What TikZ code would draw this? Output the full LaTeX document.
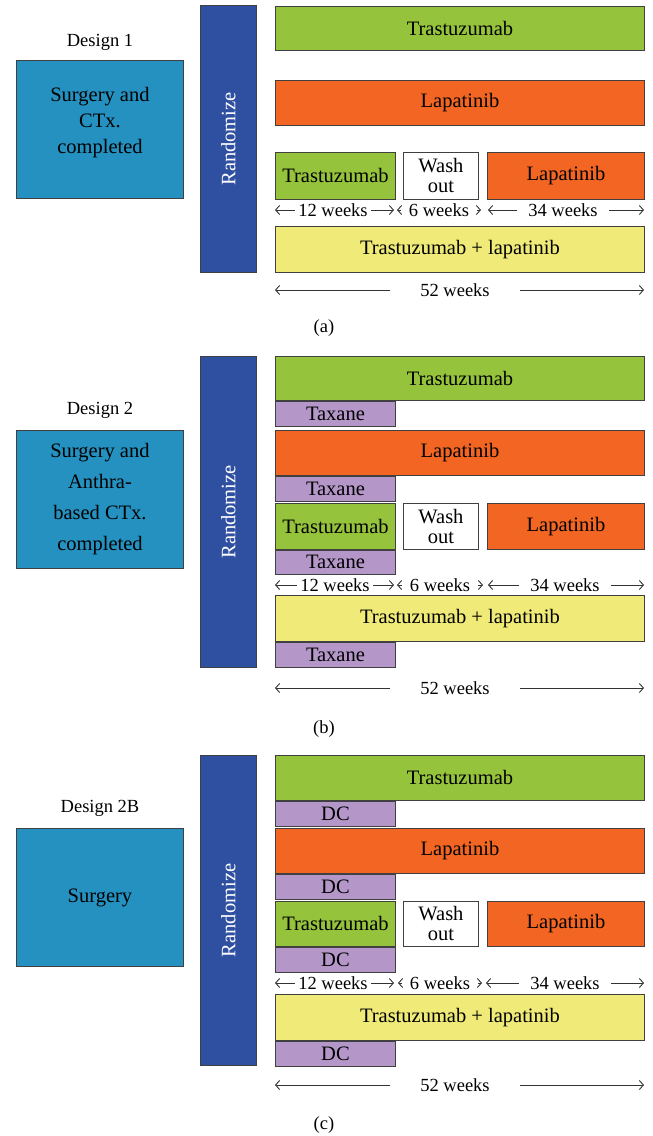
\documentclass[tikz,border=0pt]{standalone}
\usepackage{fontspec}
\setmainfont{Liberation Serif}
\usetikzlibrary{arrows.meta,positioning}
\definecolor{ctxblue}{RGB}{36,145,192}
\definecolor{randblue}{RGB}{47,79,160}
\definecolor{trgreen}{RGB}{150,195,60}
\definecolor{laporange}{RGB}{242,101,34}
\definecolor{combyellow}{RGB}{240,235,120}
\definecolor{chemopurple}{RGB}{180,151,200}

\begin{document}
\begin{tikzpicture}[x=1pt, y=-1pt,
    font=\fontsize{20.5}{26}\selectfont,
    arm/.style={draw=black!75, line width=0.9pt, anchor=north west, inner sep=0pt, align=center},
    longarm/.style={arm, minimum width=369pt},
    shortarm/.style={arm, minimum width=120pt},
    washbox/.style={arm, fill=white, minimum width=75pt, font=\fontsize{20.5}{20}\selectfont},
    laparm/.style={arm, fill=laporange, minimum width=157pt},
    chemo/.style={arm, fill=chemopurple, minimum width=120pt, minimum height=25pt},
    randbar/.style={draw=black!75, line width=0.9pt, fill=randblue, anchor=north west, minimum width=56pt},
    randtext/.style={rotate=90, text=white},
    ctxbox/.style={draw=black!75, line width=0.9pt, fill=ctxblue, anchor=north west, minimum width=167pt, minimum height=138pt, align=center},
    small/.style={font=\fontsize{18.5}{22}\selectfont},
    wk/.style={-{Straight Barb[length=4pt,width=9pt]}, line width=0.9pt, black!80}
  ]
  \useasboundingbox (0,0) rectangle (653,1136);

  % (a) design 1
  \node[small] (desA) at (100,42) {Design 1};
  \node[ctxbox, text depth=18pt] (ctxA) at (16,60) {Surgery and\\CTx.\\completed};
  \node[randbar, minimum height=267pt] (randA) at (200,5) {};
  \node[randtext] (randAt) at (randA.center) {Randomize};
  \node[longarm, fill=trgreen, minimum height=44pt] (trA) at (275,6) {Trastuzumab};
  \node[longarm, fill=laporange, minimum height=45pt] (lapA) at (275,80) {Lapatinib};
  \node[shortarm, fill=trgreen, minimum height=47pt] (seqtrA) at (275,152) {Trastuzumab};
  \node[washbox, minimum height=47pt] (washA) at (403,152) {Wash\\out};
  \node[laparm, minimum height=47pt] (seqlapA) at (487,152) {Lapatinib};
  \node[longarm, fill=combyellow, minimum height=46pt] (combA) at (275,226) {Trastuzumab + lapatinib};
  \coordinate (wA0) at (275,210);
  \coordinate (wA1) at (394,210);
  \coordinate (wA2) at (488,210);
  \coordinate (wA3) at (644,210);
  \coordinate (gA0) at (397,210);
  \coordinate (gA1) at (481,210);
  \node[small] (w12A) at (333,210) {12 weeks};
  \node[small, inner xsep=8pt] (w6A) at (439,210) {6 weeks};
  \node[small, inner xsep=11pt] (w34A) at (563,210) {34 weeks};
  \draw[wk] (w12A) -- (wA0);
  \draw[wk] (w12A) -- (wA1);
  \draw[wk] (w6A) -- (gA0);
  \draw[wk] (w6A) -- (gA1);
  \draw[wk] (w34A) -- (wA2);
  \draw[wk] (w34A) -- (wA3);
  \coordinate (tA0) at (275,290);
  \coordinate (tA1) at (644,290);
  \node[small, inner xsep=30pt] (w52A) at (455,290) {52 weeks};
  \draw[wk] (w52A) -- (tA0);
  \draw[wk] (w52A) -- (tA1);
  \node[small] (capA) at (324,328) {(a)};

  % (b) design 2
  \node[small] (desB) at (100,410) {Design 2};
  \node[ctxbox] (ctxB) at (16,430) {Surgery and\\[5pt]Anthra-\\[5pt]based CTx.\\[5pt]completed};
  \node[randbar, minimum height=311pt] (randB) at (200,356) {};
  \node[randtext] (randBt) at (randB.center) {Randomize};
  \node[longarm, fill=trgreen, minimum height=44pt] (trB) at (275,356) {Trastuzumab};
  \node[chemo] (taxB1) at (trB.south west) {Taxane};
  \node[longarm, fill=laporange, minimum height=45pt] (lapB) at (275,430) {Lapatinib};
  \node[chemo] (taxB2) at (lapB.south west) {Taxane};
  \node[shortarm, fill=trgreen, minimum height=46pt] (seqtrB) at (275,503) {Trastuzumab};
  \node[washbox, minimum height=46pt] (washB) at (403,503) {Wash\\out};
  \node[laparm, minimum height=46pt] (seqlapB) at (487,503) {Lapatinib};
  \node[chemo, minimum height=24pt] (taxB3) at (seqtrB.south west) {Taxane};
  \node[longarm, fill=combyellow, minimum height=46pt] (combB) at (275,595) {Trastuzumab + lapatinib};
  \node[chemo] (taxB4) at (combB.south west) {Taxane};
  \coordinate (wB0) at (275,585);
  \coordinate (wB1) at (394,585);
  \coordinate (wB2) at (488,585);
  \coordinate (wB3) at (644,585);
  \coordinate (gB0) at (397,585);
  \coordinate (gB1) at (483,585);
  \node[small] (w12B) at (335,585) {12 weeks};
  \node[small, inner xsep=8pt] (w6B) at (440,585) {6 weeks};
  \node[small, inner xsep=11pt] (w34B) at (565,585) {34 weeks};
  \draw[wk] (w12B) -- (wB0);
  \draw[wk] (w12B) -- (wB1);
  \draw[wk] (w6B) -- (gB0);
  \draw[wk] (w6B) -- (gB1);
  \draw[wk] (w34B) -- (wB2);
  \draw[wk] (w34B) -- (wB3);
  \coordinate (tB0) at (275,688);
  \coordinate (tB1) at (644,688);
  \node[small, inner xsep=30pt] (w52B) at (455,688) {52 weeks};
  \draw[wk] (w52B) -- (tB0);
  \draw[wk] (w52B) -- (tB1);
  \node[small] (capB) at (324,729) {(b)};

  % (c) design 2B
  \node[small] (desC) at (100,808) {Design 2B};
  \node[ctxbox] (ctxC) at (16,828) {Surgery};
  \node[randbar, minimum height=310pt] (randC) at (200,755) {};
  \node[randtext] (randCt) at (randC.center) {Randomize};
  \node[longarm, fill=trgreen, minimum height=45pt] (trC) at (275,755) {Trastuzumab};
  \node[chemo] (dcC1) at (trC.south west) {DC};
  \node[longarm, fill=laporange, minimum height=45pt] (lapC) at (275,828) {Lapatinib};
  \node[chemo] (dcC2) at (lapC.south west) {DC};
  \node[shortarm, fill=trgreen, minimum height=45pt] (seqtrC) at (275,901) {Trastuzumab};
  \node[washbox, minimum height=45pt] (washC) at (403,901) {Wash\\out};
  \node[laparm, minimum height=45pt] (seqlapC) at (487,901) {Lapatinib};
  \node[chemo] (dcC3) at (seqtrC.south west) {DC};
  \node[longarm, fill=combyellow, minimum height=46pt] (combC) at (275,994) {Trastuzumab + lapatinib};
  \node[chemo] (dcC4) at (combC.south west) {DC};
  \coordinate (wC0) at (275,983);
  \coordinate (wC1) at (394,983);
  \coordinate (wC2) at (486,983);
  \coordinate (wC3) at (644,983);
  \coordinate (gC0) at (398,983);
  \coordinate (gC1) at (482,983);
  \node[small] (w12C) at (333,983) {12 weeks};
  \node[small, inner xsep=8pt] (w6C) at (440,983) {6 weeks};
  \node[small, inner xsep=11pt] (w34C) at (565,983) {34 weeks};
  \draw[wk] (w12C) -- (wC0);
  \draw[wk] (w12C) -- (wC1);
  \draw[wk] (w6C) -- (gC0);
  \draw[wk] (w6C) -- (gC1);
  \draw[wk] (w34C) -- (wC2);
  \draw[wk] (w34C) -- (wC3);
  \coordinate (tC0) at (275,1085);
  \coordinate (tC1) at (644,1085);
  \node[small, inner xsep=30pt] (w52C) at (455,1085) {52 weeks};
  \draw[wk] (w52C) -- (tC0);
  \draw[wk] (w52C) -- (tC1);
  \node[small] (capC) at (324,1125) {(c)};
\end{tikzpicture}
\end{document}
